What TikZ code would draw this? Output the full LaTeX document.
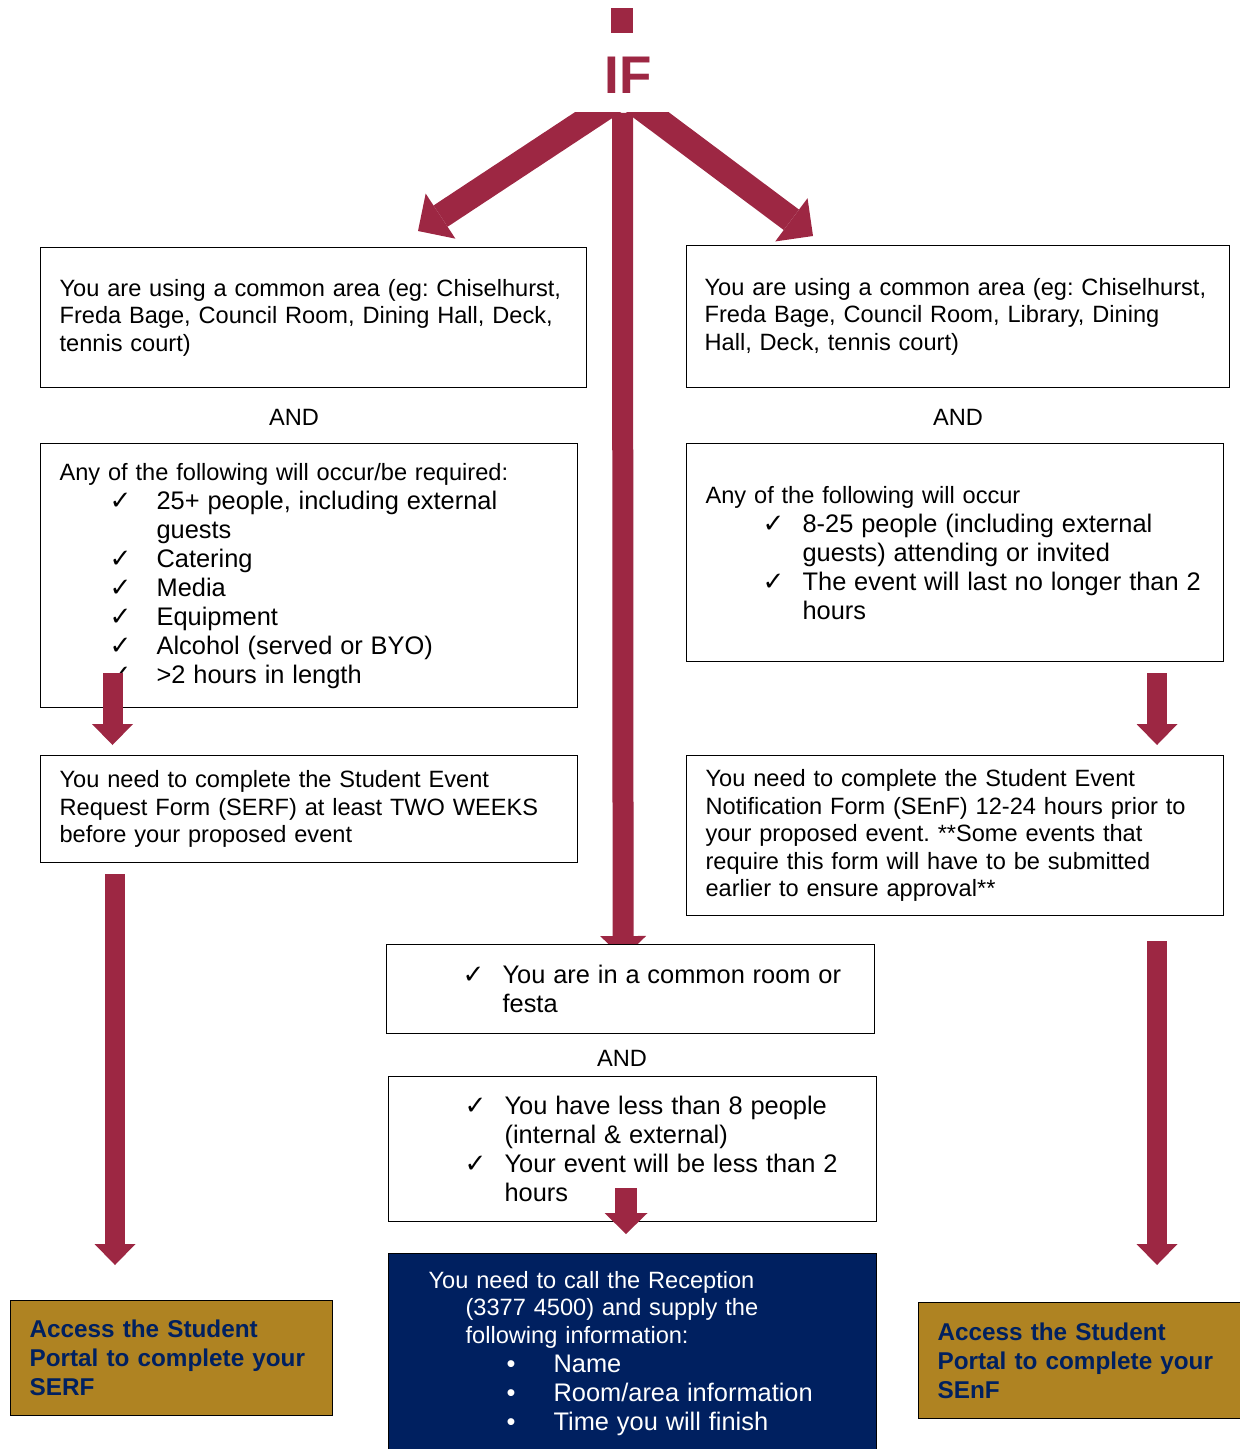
\documentclass[tikz,border=0pt]{standalone}
\usepackage{fontspec}
\setmainfont{Liberation Sans}
\newfontfamily\symfont{DejaVu Sans}
\usetikzlibrary{arrows.meta,positioning,calc,backgrounds}
\setlength{\parindent}{0pt}
\frenchspacing
\hyphenpenalty=10000
\exhyphenpenalty=10000

\definecolor{ifred}{HTML}{9D2743}
\definecolor{portalgold}{HTML}{AF8322}
\definecolor{navy}{HTML}{002060}

\newcommand{\listfont}{\fontsize{12.7}{14.5}\selectfont}
\newcommand{\chk}[1][28.5pt]{\makebox[48.5pt][l]{\hspace*{#1}{\symfont\fontsize{13}{13}\selectfont ✓}}}
\newcommand{\chkgap}{\hspace*{48.5pt}}
\newcommand{\dotitem}{\makebox[62.5pt][l]{\hspace*{39pt}•}}

\begin{document}
\begin{tikzpicture}[
    x=0.5pt, y=-0.5pt,
    font=\fontsize{11.8}{13.75}\selectfont,
    box/.style={draw, line width=0.6pt, fill=white, anchor=north west, align=left, inner xsep=9.5pt, inner ysep=0pt},
    portal/.style={box, fill=portalgold, text=navy, font=\bfseries\fontsize{12.15}{14.5}\selectfont},
    andlabel/.style={inner sep=0pt},
    armarrow/.style={draw=ifred, line width=12.75pt, -{Triangle[length=13.5pt,width=27pt,line width=0pt]}},
    downarrow/.style={draw=ifred, line width=10pt, -{Triangle[length=10.5pt,width=20.5pt,line width=0pt]}}
]
\useasboundingbox (0,0) rectangle (1239,1449);

% heading
\node[fill=ifred, minimum width=11pt, minimum height=12.5pt, inner sep=0pt] (topmark) at (622,20.5) {};
\node[text=ifred, inner sep=0pt, font=\bfseries\fontsize{26.5}{30}\selectfont] (iftext) at (628,75) {IF};
\coordinate (fork) at (622.5,113);

% left column
\node[box, text width=254pt, minimum height=70pt] (leftArea) at (40,247)
{You are using a common area (eg: Chiselhurst,\\ Freda Bage, Council Room, Dining Hall, Deck,\\ tennis court)};
\node[andlabel] (andLeft) at (294,417) {AND};
\node[box, text width=249.5pt, minimum height=132pt] (leftAny) at (40,443)
{Any of the following will occur/be required:\par
{\listfont\chk[25pt]25+ people, including external\\ \chkgap guests\\ \chk[25pt]Catering\\ \chk[25pt]Media\\ \chk[25pt]Equipment\\ \chk[25pt]Alcohol (served or BYO)\\ \chk[25pt]>2 hours in length\par}};
\node[box, text width=249.5pt, minimum height=53.5pt] (leftSerf) at (40,755)
{You need to complete the Student Event\\ Request Form (SERF) at least TWO WEEKS\\ before your proposed event};
\node[portal, text width=142pt, minimum height=57.5pt] (serfPortal) at (10,1300)
{Access the Student\\ Portal to complete your\\ SERF};

% right column
\node[box, inner xsep=9pt, text width=253.5pt, minimum height=71pt] (rightArea) at (686,245)
{You are using a common area (eg: Chiselhurst,\\ Freda Bage, Council Room, Library, Dining\\ Hall, Deck, tennis court)};
\node[andlabel] (andRight) at (958,417) {AND};
\node[box, text width=249.5pt, minimum height=109pt] (rightAny) at (686,443)
{Any of the following will occur\par
{\listfont\chk 8-25 people (including external\\ \chkgap guests) attending or invited\\ \chk The event will last no longer than 2\\ \chkgap hours\par}};
\node[box, text width=249.5pt, minimum height=80pt] (rightSenf) at (686,755)
{You need to complete the Student Event\\ Notification Form (SEnF) 12-24 hours prior to\\ your proposed event. **Some events that\\ require this form will have to be submitted\\ earlier to ensure approval**};
\node[portal, text width=146pt, minimum height=58pt] (senfPortal) at (918,1302)
{Access the Student\\ Portal to complete your\\ SEnF};

% middle column
\node[box, text width=225pt, minimum height=44.5pt] (midRoom) at (386,944)
{\listfont\chk You are in a common room or\\ \chkgap festa\par};
\node[andlabel] (andMid) at (622,1058) {AND};
\node[box, text width=225pt, minimum height=72.5pt] (midLess) at (388,1076)
{\listfont\chk You have less than 8 people\\ \chkgap (internal \& external)\\ \chk Your event will be less than 2\\ \chkgap hours\par};
\node[box, fill=navy, text=white, inner xsep=20pt, text width=204pt, minimum height=99.5pt] (callBox) at (388,1253)
{You need to call the Reception\\ \hspace*{18.5pt}(3377 4500) and supply the\\ \hspace*{18.5pt}following information:\par
{\listfont\dotitem Name\\ \dotitem Room/area information\\ \dotitem Time you will finish\par}};

% fork from IF
\begin{scope}[on background layer]
\draw[downarrow, line width=10.5pt, -{Triangle[length=11pt,width=23pt,line width=0pt]}] (fork) -- ($(midRoom.north)+(-7.5,14)$);
\end{scope}
\begin{scope}
\clip (0,113) rectangle (1239,300);
\draw[armarrow] ($(fork)+(-7.5,-12)$) -- ($(leftArea.north west)+(378,-16)$);
\draw[armarrow] ($(fork)+(9.5,-12.3)$) -- ($(rightArea.north west)+(127,-9)$);
\end{scope}

% down arrows
\draw[downarrow] ($(leftAny.south west)+(72.5,-35)$) -- ($(leftSerf.north west)+(72.5,-10)$);
\draw[downarrow] ($(leftSerf.south west)+(75,11)$) -- ($(serfPortal.north west)+(105,-35)$);
\draw[downarrow] ($(rightAny.south west)+(471,11)$) -- ($(rightSenf.north west)+(471,-10)$);
\draw[downarrow] ($(rightSenf.south west)+(471,25)$) -- ($(senfPortal.north west)+(239,-37)$);
\draw[downarrow, line width=11pt, -{Triangle[length=10.5pt,width=21.5pt,line width=0pt]}] ($(midLess.south west)+(238,-34)$) -- ($(callBox.north west)+(238,-19)$);

\end{tikzpicture}
\end{document}
